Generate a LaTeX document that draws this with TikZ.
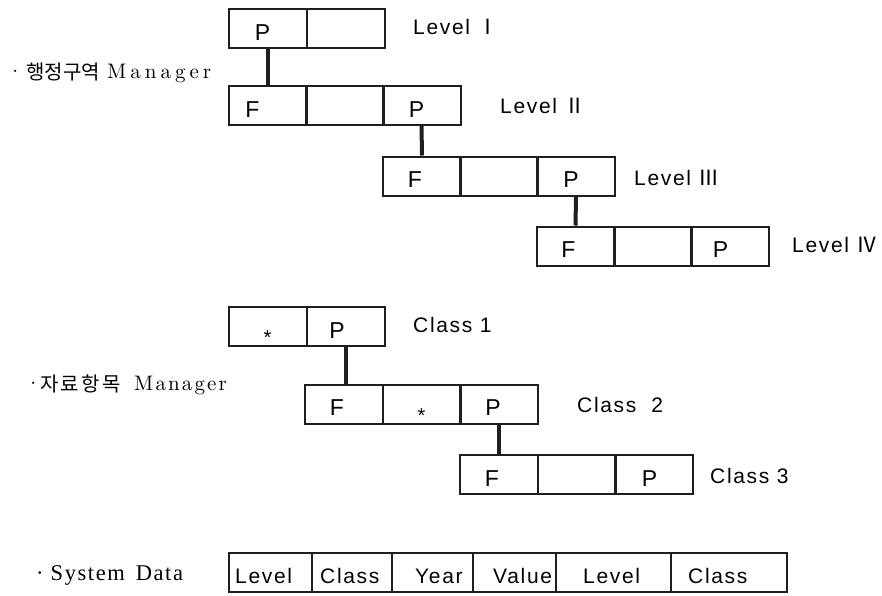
\documentclass[tikz,border=0pt]{standalone}
\usepackage{fontspec}
\newfontfamily\lblfont{Liberation Sans}[LetterSpace=8]
\newfontfamily\krfont{Noto Sans CJK KR}
\newfontfamily\numfont{Noto Sans CJK KR}
\newfontfamily\sdfont{Liberation Serif}[LetterSpace=7]
\newfontfamily\manfont{lmroman10-regular}[Extension=.otf]
\begin{document}
\begin{tikzpicture}[x=1pt,y=-1pt,
  cell/.style={draw=black!88, line width=2pt, minimum width=78pt, minimum height=39pt, inner sep=0pt},
  link/.style={draw=black!88, line width=4pt},
  key/.style={font=\fontsize{23}{26}\selectfont\lblfont, anchor=base, inner sep=0pt},
  star/.style={font=\fontsize{20}{22}\selectfont\lblfont, anchor=base, inner sep=0pt},
  tag/.style={font=\fontsize{21}{24}\selectfont\lblfont, anchor=base west, inner sep=0pt},
  field/.style={font=\fontsize{21}{24}\selectfont\lblfont, anchor=base west, inner sep=0pt},
  dot/.style={font=\fontsize{21}{23}\selectfont\manfont, anchor=base west, inner sep=0pt},
  hangul/.style={font=\fontsize{20}{22}\selectfont\krfont, anchor=base west, inner sep=0pt},
  mgr/.style={font=\fontsize{21}{23}\selectfont\manfont, anchor=base west, inner sep=0pt},
]
\useasboundingbox (0,0) rectangle (882,595);

% ---------- administrative area manager ----------
\node[dot] (hd1d) at (7,78) {\textperiodcentered};
\node[hangul] (hd1k) at (26,79) {행정구역};
\node[mgr] (hd1m) at (107,78) {\addfontfeatures{LetterSpace=19}Manager};

% level I
\node[cell] (l1a) at (267.5,28.5) {};
\node[cell] (l1b) at (346,28.5) {};
% level II
\node[cell] (l2a) at (267.5,105.5) {};
\node[cell] (l2b) at (345,105.5) {};
\node[cell] (l2c) at (421.5,105.5) {};
% level III
\node[cell] (l3a) at (422,176) {};
\node[cell] (l3b) at (499,176) {};
\node[cell] (l3c) at (576,176) {};
% level IV
\node[cell] (l4a) at (575.5,246) {};
\node[cell] (l4b) at (652.5,246) {};
\node[cell] (l4c) at (729.5,246) {};

\node[key] (k1) at ([xshift=-5pt,yshift=9pt]l1a.south) {P};
\node[key] (k2) at ([xshift=-15pt,yshift=9pt]l2a.south) {F};
\node[key] (k3) at ([xshift=-5pt,yshift=9pt]l2c.south) {P};
\node[key] (k4) at ([xshift=-7pt,yshift=9pt]l3a.south) {F};
\node[key] (k5) at ([xshift=-5pt,yshift=9pt]l3c.south) {P};
\node[key] (k6) at ([xshift=-7pt,yshift=9pt]l4a.south) {F};
\node[key] (k7) at ([xshift=-9pt,yshift=9pt]l4c.south) {P};

\draw[link] (l1a.south) -- (l2a.north);
\draw[link] (l2c.south) -- (l3a.north);
\draw[link] (l3c.south) -- (l4a.north);

\node[tag] (t1) at (413,34) {Level\ {\numfont Ⅰ}};
\node[tag] (t2) at (500,113) {Level\ {\numfont Ⅱ}};
\node[tag] (t3) at (634,185) {Level\ {\numfont Ⅲ}};
\node[tag] (t4) at (792,252) {Level\ {\numfont Ⅳ}};

% ---------- data item manager ----------
\node[dot] (hd2d) at (25,390) {\textperiodcentered};
\node[hangul] (hd2k) at (40,391) {\addfontfeatures{LetterSpace=11}자료항목};
\node[mgr] (hd2m) at (134,390) {\addfontfeatures{LetterSpace=10}Manager};

% class 1
\node[cell] (c1a) at (267.5,326.5) {};
\node[cell] (c1b) at (346,326.5) {};
% class 2
\node[cell] (c2a) at (344,404) {};
\node[cell] (c2b) at (421.5,404) {};
\node[cell] (c2c) at (499,404) {};
% class 3
\node[cell] (c3a) at (499,474.5) {};
\node[cell] (c3b) at (576.5,474.5) {};
\node[cell] (c3c) at (653.5,474.5) {};

\node[star] (s1) at ([yshift=3pt]c1a.south) {*};
\node[key] (k8) at ([xshift=-9pt,yshift=9pt]c1b.south) {P};
\node[key] (k9) at ([xshift=-7pt,yshift=9pt]c2a.south) {F};
\node[star] (s2) at ([yshift=2pt]c2b.south) {*};
\node[key] (k10) at ([xshift=-6pt,yshift=9pt]c2c.south) {P};
\node[key] (k11) at ([xshift=-7pt,yshift=9pt]c3a.south) {F};
\node[key] (k12) at ([xshift=-4pt,yshift=9pt]c3c.south) {P};

\draw[link] (c1b.south) -- (c1b.south |- c2a.north);
\draw[link] (c2c.south) -- (c3a.north);

\node[tag] (t5) at (413,332) {Class 1};
\node[tag] (t6) at (577,412) {Class\ \ 2};
\node[tag] (t7) at (710,483) {Class 3};

% ---------- system data record ----------
\node[anchor=base west, inner sep=0pt, font=\fontsize{22.5}{25}\selectfont\sdfont] (hd3) at (36,580) {\textperiodcentered\hspace{7pt}System\hspace{11pt}Data};

\node[cell, minimum width=83pt] (d1) at (270.5,572.5) {};
\node[cell, minimum width=80pt] (d2) at (352,572.5) {};
\node[cell, minimum width=81pt] (d3) at (432.5,572.5) {};
\node[cell, minimum width=83pt] (d4) at (514.5,572.5) {};
\node[cell, minimum width=115pt] (d5) at (613.5,572.5) {};
\node[cell, minimum width=116pt] (d6) at (729,572.5) {};

\node[field] (f1) at (235,583) {Level};
\node[field] (f2) at (320,583) {Class};
\node[field] (f3) at (415,583) {Year};
\node[field] (f4) at (493,583) {Value};
\node[field] (f5) at (583,583) {Level};
\node[field] (f6) at (688,583) {Class};
\end{tikzpicture}
\end{document}
